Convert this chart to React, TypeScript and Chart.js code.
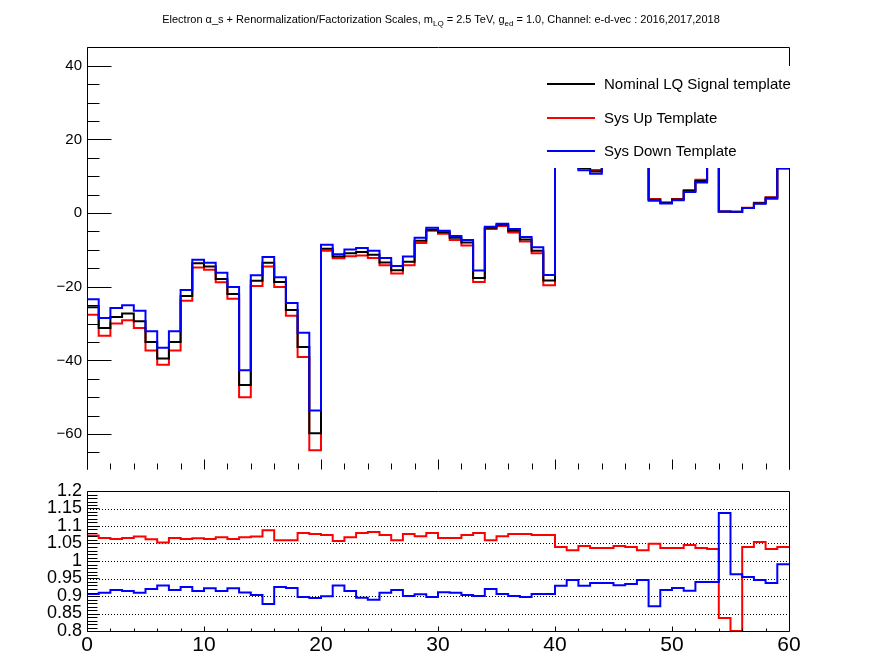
import { useEffect, useRef } from "react";
import { Chart, registerables } from "chart.js";

Chart.register(...registerables);

const FONT = "'Liberation Sans', Arial, Helvetica, sans-serif";

// bin low edges 0..59 plus the upper edge 60
const binEdges = Array.from({ length: 61 }, (_, i) => i);

const nominal = [
  -25.6, -31.2, -28.2, -27.3, -29.4, -35.0, -39.5, -35.0, -22.5, -13.6,
  -14.5, -17.9, -22.0, -46.7, -18.4, -13.5, -18.7, -26.3, -36.4, -59.8,
  -9.7, -11.8, -10.9, -10.6, -11.3, -13.4, -15.5, -13.2, -7.5, -4.5,
  -5.2, -6.7, -8.0, -17.6, -4.0, -3.2, -4.8, -7.2, -10.2, -18.3,
  17.0, 14.5, 12.2, 11.3, 15.0, 18.0, 21.0, 17.0, 3.6, 2.8,
  3.7, 6.0, 8.7, 14.0, 0.4, 0.34, 1.4, 2.65, 4.15, 12.2,
];

const sysUp = [
  -27.6, -33.3, -30.0, -29.1, -31.2, -37.3, -41.2, -37.3, -23.8, -14.8,
  -15.4, -18.8, -23.3, -50.0, -19.8, -14.5, -20.1, -27.9, -39.1, -64.4,
  -10.2, -12.3, -11.7, -11.5, -12.2, -14.2, -16.4, -14.2, -8.1, -4.8,
  -5.6, -7.3, -8.8, -18.7, -4.3, -3.5, -5.3, -7.7, -10.9, -19.6,
  17.7, 15.0, 12.7, 11.7, 15.6, 18.8, 21.8, 17.5, 3.8, 2.9,
  3.8, 6.25, 9.05, 14.5, 0.33, 0.27, 1.45, 2.8, 4.3, 12.7,
];

const sysDown = [
  -23.4, -28.5, -25.8, -25.0, -26.5, -32.1, -36.6, -32.1, -20.9, -12.7,
  -13.5, -16.2, -20.1, -42.7, -16.9, -11.9, -17.4, -24.4, -32.5, -53.6,
  -8.6, -11.2, -9.9, -9.5, -10.2, -12.2, -14.4, -11.8, -6.7, -4.0,
  -4.8, -6.2, -7.3, -15.6, -3.7, -2.9, -4.3, -6.5, -9.3, -16.8,
  15.8, 13.7, 11.6, 10.7, 14.1, 16.8, 19.6, 16.1, 3.35, 2.6,
  3.5, 5.7, 8.3, 13.2, 0.45, 0.33, 1.35, 2.5, 3.9, 12.1,
];

const ratioUp = [
  1.073, 1.066, 1.063, 1.066, 1.07, 1.062, 1.053, 1.066, 1.063, 1.065,
  1.063, 1.068, 1.063, 1.068, 1.07, 1.088, 1.059, 1.059, 1.08, 1.077,
  1.074, 1.057, 1.068, 1.08, 1.083, 1.074, 1.059, 1.077, 1.071, 1.08,
  1.066, 1.066, 1.074, 1.08, 1.059, 1.071, 1.077, 1.077, 1.074, 1.074,
  1.04, 1.031, 1.043, 1.037, 1.037, 1.043, 1.04, 1.031, 1.049, 1.037,
  1.037, 1.046, 1.037, 1.034, 0.837, 0.8, 1.04, 1.054, 1.034, 1.04,
];

const ratioDown = [
  0.906, 0.909, 0.917, 0.914, 0.909, 0.92, 0.93, 0.917, 0.926, 0.914,
  0.922, 0.914, 0.922, 0.91, 0.903, 0.877, 0.926, 0.923, 0.897, 0.894,
  0.899, 0.93, 0.914, 0.895, 0.889, 0.909, 0.917, 0.9, 0.905, 0.897,
  0.911, 0.909, 0.903, 0.9, 0.92, 0.906, 0.9, 0.897, 0.906, 0.906,
  0.929, 0.946, 0.929, 0.937, 0.937, 0.931, 0.934, 0.946, 0.871, 0.917,
  0.923, 0.915, 0.94, 0.94, 1.137, 0.962, 0.954, 0.946, 0.937, 0.991,
];

const topYTicks = [-60, -40, -20, 0, 20, 40];
const ratioYTicks = [0.8, 0.85, 0.9, 0.95, 1, 1.05, 1.1, 1.15, 1.2];
const ratioGrid = [0.85, 0.9, 0.95, 1, 1.05, 1.1, 1.15];
const xTicks = [0, 10, 20, 30, 40, 50, 60];

const legendLabels = ["Nominal LQ Signal template", "Sys Up Template", "Sys Down Template"];
const legendColors = ["#000000", "#ff0000", "#0000ff"];

function histPoints(values: number[]) {
  return binEdges.map((x, i) => ({ x, y: values[Math.min(i, values.length - 1)] }));
}

function fmtNumber(v: number) {
  const s = String(Math.round(v * 100) / 100);
  return v < 0 ? "\u2212" + s.slice(1) : s;
}

function noOverhang(s: any) {
  s.paddingTop = 0;
  s.paddingBottom = 0;
  s.paddingLeft = 0;
  s.paddingRight = 0;
}

// ROOT-like frame, inward ticks and dotted grid
const rootPad = {
  id: "rootPad",
  beforeDatasetsDraw(chart: any, _args: unknown, o: any) {
    if (!o.grid) return;
    const { ctx, chartArea: a } = chart;
    const ys = chart.scales.y;
    ctx.save();
    ctx.strokeStyle = "#000";
    ctx.lineWidth = 1;
    ctx.setLineDash([1, 2]);
    for (const v of o.grid) {
      const py = Math.round(ys.getPixelForValue(v)) + 0.5;
      ctx.beginPath();
      ctx.moveTo(a.left, py);
      ctx.lineTo(a.right, py);
      ctx.stroke();
    }
    ctx.restore();
  },
  afterDatasetsDraw(chart: any, _args: unknown, o: any) {
    const { ctx, chartArea: a } = chart;
    const xs = chart.scales.x;
    const ys = chart.scales.y;
    const L = Math.round(a.left) + 0.5;
    const R = Math.round(a.right) + 0.5;
    const T = Math.round(a.top) + 0.5;
    const B = Math.round(a.bottom) + 0.5;
    ctx.save();
    ctx.strokeStyle = "#000";
    ctx.lineWidth = 1;
    ctx.beginPath();
    ctx.moveTo(L, B);
    ctx.lineTo(L, T);
    ctx.lineTo(R, T);
    ctx.lineTo(R, B);
    if (o.closed) ctx.lineTo(L, B);
    ctx.stroke();

    ctx.beginPath();
    const x0 = Math.ceil(xs.min / o.xMinor - 1e-6);
    const x1 = Math.floor(xs.max / o.xMinor + 1e-6);
    for (let n = x0; n <= x1; n++) {
      const v = n * o.xMinor;
      const r = v / o.xMajor;
      const len = Math.abs(r - Math.round(r)) < 1e-6 ? o.xMajorLen : o.xMinorLen;
      const px = Math.round(xs.getPixelForValue(v)) + 0.5;
      ctx.moveTo(px, B);
      ctx.lineTo(px, B - len);
    }
    const y0 = Math.ceil(ys.min / o.yMinor - 1e-6);
    const y1 = Math.floor(ys.max / o.yMinor + 1e-6);
    for (let n = y0; n <= y1; n++) {
      const v = n * o.yMinor;
      const r = v / o.yMajor;
      const len = Math.abs(r - Math.round(r)) < 1e-6 ? o.yMajorLen : o.yMinorLen;
      const py = Math.round(ys.getPixelForValue(v)) + 0.5;
      ctx.moveTo(L, py);
      ctx.lineTo(L + len, py);
    }
    ctx.stroke();
    ctx.restore();
  },
};

// white-filled legend box drawn over the histograms
const rootLegend = {
  id: "rootLegend",
  afterDraw(chart: any) {
    const ctx = chart.ctx;
    ctx.save();
    ctx.fillStyle = "#ffffff";
    ctx.fillRect(540, 66, 300, 102);
    const rows = [84, 118, 151];
    ctx.lineWidth = 2;
    ctx.font = `15px ${FONT}`;
    ctx.textBaseline = "middle";
    ctx.textAlign = "left";
    legendLabels.forEach((label, i) => {
      ctx.strokeStyle = legendColors[i];
      ctx.beginPath();
      ctx.moveTo(547, rows[i]);
      ctx.lineTo(595, rows[i]);
      ctx.stroke();
      ctx.fillStyle = "#000";
      ctx.fillText(label, 604, rows[i] + 1);
    });
    ctx.restore();
  },
};

function TopPanel() {
  const ref = useRef<HTMLCanvasElement>(null);

  useEffect(() => {
    const chart = new Chart(ref.current!, {
      type: "line",
      data: {
        datasets: [
          { label: legendLabels[2], data: histPoints(sysDown), borderColor: legendColors[2] },
          { label: legendLabels[0], data: histPoints(nominal), borderColor: legendColors[0] },
          { label: legendLabels[1], data: histPoints(sysUp), borderColor: legendColors[1] },
        ],
      },
      options: {
        animation: false,
        responsive: true,
        maintainAspectRatio: false,
        layout: { padding: { top: 47, right: 107, left: 0, bottom: 0 } },
        elements: {
          point: { radius: 0 },
          line: { borderWidth: 2, stepped: "before", tension: 0, fill: false },
        },
        plugins: {
          legend: { display: false },
          tooltip: { enabled: false },
          rootPad: {
            closed: false,
            xMajor: 10, xMinor: 2, xMajorLen: 10, xMinorLen: 6,
            yMajor: 20, yMinor: 5, yMajorLen: 24, yMinorLen: 12,
          },
        } as any,
        scales: {
          x: {
            type: "linear",
            min: 0,
            max: 60,
            grid: { display: false, drawTicks: false },
            border: { display: false },
            ticks: { display: false },
            afterFit: (s: any) => {
              s.height = 11;
              noOverhang(s);
            },
          },
          y: {
            min: -69.5,
            max: 45.1,
            grid: { display: false, drawTicks: false },
            border: { display: false },
            ticks: {
              padding: 5,
              autoSkip: false,
              color: "#000",
              font: { size: 15, family: FONT },
              callback: (v: any) => fmtNumber(Number(v)),
            },
            afterBuildTicks: (s: any) => {
              s.ticks = topYTicks.map((value) => ({ value }));
            },
            afterFit: (s: any) => {
              s.width = 87;
              noOverhang(s);
            },
          },
        },
      },
      plugins: [rootPad, rootLegend],
    });
    return () => chart.destroy();
  }, []);

  return <canvas ref={ref}></canvas>;
}

function RatioPanel() {
  const ref = useRef<HTMLCanvasElement>(null);

  useEffect(() => {
    const chart = new Chart(ref.current!, {
      type: "line",
      data: {
        datasets: [
          { label: "Down / Nominal", data: histPoints(ratioDown), borderColor: legendColors[2] },
          { label: "Up / Nominal", data: histPoints(ratioUp), borderColor: legendColors[1] },
        ],
      },
      options: {
        animation: false,
        responsive: true,
        maintainAspectRatio: false,
        layout: { padding: { top: 11, right: 107, left: 0, bottom: 0 } },
        elements: {
          point: { radius: 0 },
          line: { borderWidth: 2, stepped: "before", tension: 0, fill: false },
        },
        plugins: {
          legend: { display: false },
          tooltip: { enabled: false },
          rootPad: {
            closed: true,
            grid: ratioGrid,
            xMajor: 10, xMinor: 2, xMajorLen: 5, xMinorLen: 3,
            yMajor: 0.05, yMinor: 0.01, yMajorLen: 12, yMinorLen: 10,
          },
        } as any,
        scales: {
          x: {
            type: "linear",
            min: 0,
            max: 60,
            grid: { display: false, drawTicks: false },
            border: { display: false },
            ticks: {
              padding: 2,
              autoSkip: false,
              color: "#000",
              maxRotation: 0,
              font: { size: 21, family: FONT },
              callback: (v: any) => String(v),
            },
            afterBuildTicks: (s: any) => {
              s.ticks = xTicks.map((value) => ({ value }));
            },
            afterFit: (s: any) => {
              s.height = 41;
              noOverhang(s);
            },
          },
          y: {
            min: 0.8,
            max: 1.2,
            grid: { display: false, drawTicks: false },
            border: { display: false },
            ticks: {
              padding: 5,
              autoSkip: false,
              color: "#000",
              font: { size: 18, family: FONT },
              callback: (v: any) => fmtNumber(Number(v)),
            },
            afterBuildTicks: (s: any) => {
              s.ticks = ratioYTicks.map((value) => ({ value }));
            },
            afterFit: (s: any) => {
              s.width = 87;
              noOverhang(s);
            },
          },
        },
      },
      plugins: [rootPad],
    });
    return () => chart.destroy();
  }, []);

  return <canvas ref={ref}></canvas>;
}

export default function App() {
  return (
    <div
      style={{
        position: "absolute",
        left: 0,
        top: 0,
        width: 896,
        height: 672,
        background: "#fff",
        fontFamily: FONT,
        overflow: "hidden",
      }}
    >
      <div style={{ position: "absolute", left: 0, top: 0, width: 896, height: 480 }}>
        <TopPanel />
      </div>
      <div style={{ position: "absolute", left: 0, top: 480, width: 896, height: 192 }}>
        <RatioPanel />
      </div>
      <div
        style={{
          position: "absolute",
          left: 441,
          top: 13,
          transform: "translateX(-50%)",
          whiteSpace: "nowrap",
          fontSize: 11,
          lineHeight: "13px",
          color: "#000",
        }}
      >
        Electron α_s + Renormalization/Factorization Scales, m
        <sub style={{ fontSize: 8, verticalAlign: -3 }}>LQ</sub> = 2.5 TeV, g
        <sub style={{ fontSize: 8, verticalAlign: -3 }}>ed</sub> = 1.0, Channel: e-d-vec : 2016,2017,2018
      </div>
    </div>
  );
}
